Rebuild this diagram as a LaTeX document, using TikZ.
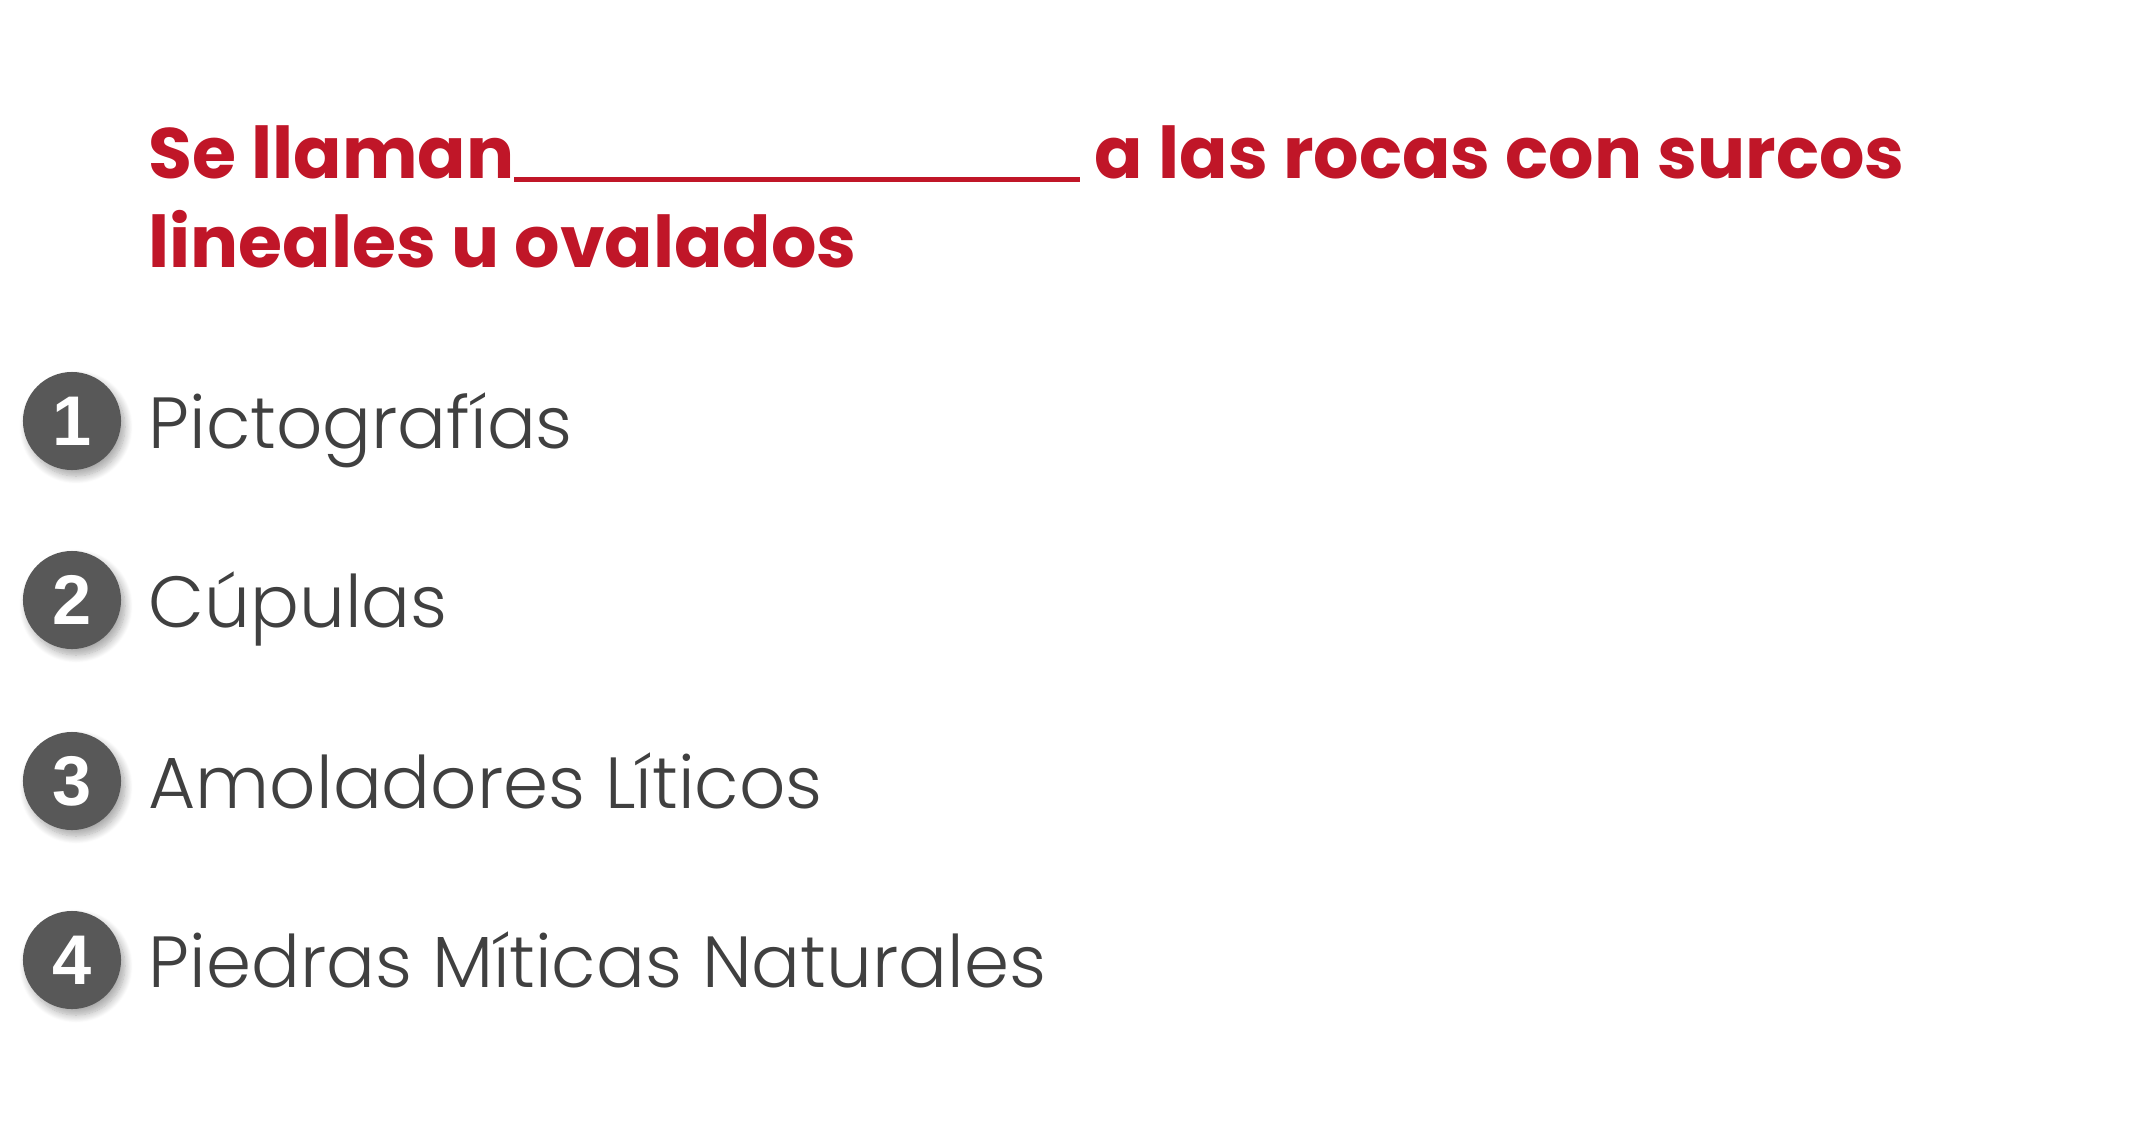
\documentclass[tikz,border=0pt]{standalone}
\usepackage{fontspec}
\setmainfont{Poppins}
\newfontfamily\itemfont{Poppins Light}
\newfontfamily\numfont{Liberation Sans}
\usetikzlibrary{shadows.blur}
\definecolor{titlered}{RGB}{192,22,40}
\definecolor{itemgray}{RGB}{64,64,64}
\definecolor{bulletgray}{RGB}{88,88,88}

\begin{document}
\begin{tikzpicture}[x=0.01cm,y=-0.01cm,
  bullet/.style={circle,fill=bulletgray,minimum size=0.98cm,inner sep=0pt,text=white,
    font=\numfont\bfseries\fontsize{20}{20}\selectfont,
    blur shadow={shadow xshift=0.04cm,shadow yshift=-0.06cm,shadow opacity=35,shadow blur steps=10}},
  item/.style={anchor=base west,inner sep=0pt,text=itemgray,font=\itemfont\fontsize{20.6}{20.6}\selectfont},
  question/.style={anchor=base west,inner sep=0pt,text=titlered,align=left,
    font=\bfseries\fontsize{20.3}{25.2}\selectfont}]
  \useasboundingbox (0,0) rectangle (2133,1133);
  % question
  \node[question] (title) at (148,267)
    {Se llaman\rule[-0.04cm]{5.65cm}{0.05cm} a las rocas con surcos\\lineales u ovalados};
  % options
  \foreach \n/\y/\t in {1/421/Pictografías,2/600/Cúpulas,3/781/Amoladores Líticos,4/960/Piedras Míticas Naturales} {
    \node[bullet] (b\n) at (72,\y) {\n};
    \node[item] (i\n) at (148,\y+27) {\t};
  }
\end{tikzpicture}
\end{document}
